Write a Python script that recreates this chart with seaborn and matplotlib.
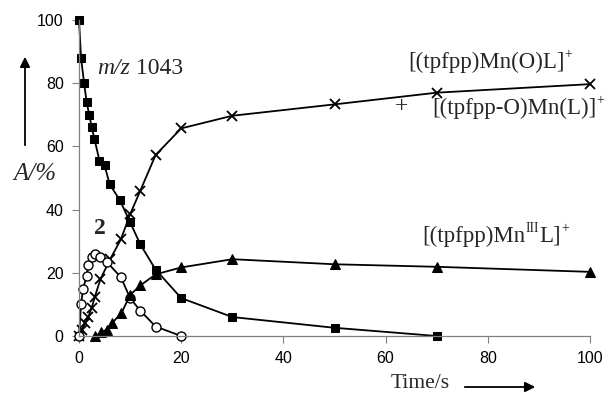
import matplotlib
matplotlib.use("Agg")
import matplotlib.pyplot as plt
import matplotlib.patches as mpatches
import seaborn as sns

# data
sq_t = [0, 0.4, 1, 1.5, 2, 2.5, 3, 4, 5, 6, 8, 10, 12, 15, 20, 30, 50, 70]
sq_y = [100, 88, 80, 74, 70, 66, 62.5, 55.5, 54, 48, 43, 36, 29, 21, 12, 6, 2.6, 0]

cr_t = [0, 0.5, 1.2, 1.8, 2.5, 3.1, 4.2, 6.1, 8.2, 10, 12, 15, 20, 30, 50, 70, 100]
cr_y = [0, 2, 4, 6, 9, 12.4, 18, 24.3, 30.6, 38.5, 46, 57.3, 65.7, 69.7, 73.3, 77, 79.7]

ci_t = [0, 0.4, 0.8, 1.5, 1.8, 2.5, 3.1, 4.1, 5.4, 8.2, 10, 12, 15, 20]
ci_y = [0, 10, 15, 19, 22.5, 25, 26, 25, 23.5, 18.6, 12, 8, 3, 0]

tr_t = [3.2, 4.4, 5.4, 6.4, 8.3, 10, 12, 15, 20, 30, 50, 70, 100]
tr_y = [0, 1.2, 2, 4, 7.2, 13, 16, 19.5, 21.7, 24.3, 22.7, 21.9, 20.3]

x_ticks = [0, 20, 40, 60, 80, 100]
y_ticks = [0, 20, 40, 60, 80, 100]

sns.set_theme(style="white")
plt.rcParams['font.family'] = ['Liberation Sans', 'DejaVu Sans']

W, H = 608, 394
fig = plt.figure(figsize=(W / 100, H / 100), dpi=100)
ax = fig.add_axes([79 / W, 1 - 336 / H, (590 - 79) / W, (336 - 20) / H])

common = dict(color="black", linewidth=1.3, ax=ax, clip_on=False, sort=False)
sns.lineplot(x=cr_t, y=cr_y, marker="x", markersize=7, markeredgewidth=1.3,
             markeredgecolor="black", **common)
sns.lineplot(x=ci_t, y=ci_y, marker="o", markersize=6.5, markerfacecolor="white",
             markeredgecolor="black", markeredgewidth=1.0, **common)
sns.lineplot(x=tr_t, y=tr_y, marker="^", markersize=7.5, markerfacecolor="black",
             markeredgecolor="black", **common)
sns.lineplot(x=sq_t, y=sq_y, marker="s", markersize=5.2, markerfacecolor="black",
             markeredgecolor="black", **common)

ax.set_xlim(0, 100)
ax.set_ylim(0, 100)
ax.set_xticks(x_ticks)
ax.set_yticks(y_ticks)
ax.set_xticklabels([str(v) for v in x_ticks])
ax.set_yticklabels([str(v) for v in y_ticks])
ax.tick_params(axis="both", which="both", direction="out", length=5, width=0.8,
               color="#808080", labelsize=11.5, labelcolor="black",
               bottom=True, left=True, pad=6)
for s in ["top", "right"]:
    ax.spines[s].set_visible(False)
for s in ["left", "bottom"]:
    ax.spines[s].set_color("#808080")
    ax.spines[s].set_linewidth(0.9)
ax.set_xlabel("")
ax.set_ylabel("")
ax.grid(False)

serif = ['Liberation Serif', 'DejaVu Serif']
renderer = fig.canvas.get_renderer()


def fx(px):
    return px / W


def fy(py):
    return 1 - py / H


def seq(x0, yc, parts, size=16.5):
    """Place a sequence of (text, kind) pieces left to right starting at pixel x0,
    vertically centred on pixel yc. kind: 'n' normal, 's' superscript, 'i' italic."""
    x = x0
    for txt, kind in parts:
        fs = size * 0.6 if kind == "s" else size
        dy = -size * 0.45 if kind == "s" else 0
        t = fig.text(fx(x), fy(yc + dy), txt, fontsize=fs, family=serif,
                     style="italic" if kind == "i" else "normal",
                     va="center", ha="left")
        bb = t.get_window_extent(renderer=renderer)
        x = x + bb.width + (1 if kind == "s" else 0)


seq(97, 68, [("m/z", "i"), (" 1043", "n")], size=17)
fig.text(fx(100), fy(229), "2", fontsize=17, family=serif, weight="bold",
         va="center", ha="center")
seq(408, 62, [("[(tpfpp)Mn(O)L]", "n"), ("+", "s")])
fig.text(fx(402), fy(107), "+", fontsize=17, family=serif, va="center", ha="center")
seq(432, 108, [("[(tpfpp-O)Mn(L)]", "n"), ("+", "s")])
seq(422, 236, [("[(tpfpp)Mn", "n"), ("III", "s"), ("L]", "n"), ("+", "s")])

# axis labels with arrows
fig.text(fx(35), fy(174), "A/%", fontsize=18, family=serif, style="italic",
         va="center", ha="center")
fig.text(fx(420), fy(384), "Time/s", fontsize=15.5, family=serif, va="center", ha="center")
fig.patches.append(mpatches.FancyArrowPatch(
    (fx(25), fy(148)), (fx(25), fy(54)), transform=fig.transFigure,
    arrowstyle="-|>,head_length=6,head_width=3", mutation_scale=1, color="black",
    linewidth=1.3))
fig.patches.append(mpatches.FancyArrowPatch(
    (fx(462), fy(387)), (fx(538), fy(387)), transform=fig.transFigure,
    arrowstyle="-|>,head_length=6,head_width=3", mutation_scale=1, color="black",
    linewidth=1.3))

fig.savefig("out.png", dpi=100)
